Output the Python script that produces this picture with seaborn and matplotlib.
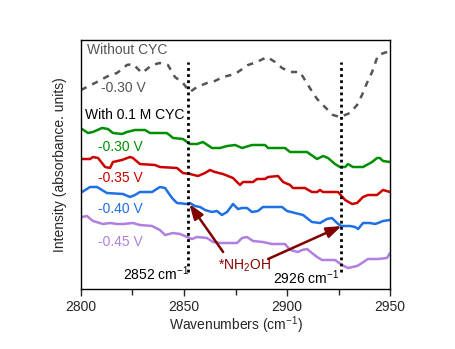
import numpy as np
import pandas as pd
import matplotlib
matplotlib.use("Agg")
import matplotlib.pyplot as plt
from matplotlib.ticker import MultipleLocator
import seaborn as sns

# ---- spectra (wavenumber in cm-1, intensity in offset absorbance units) ----
wn_no_cyc = [2800.0, 2802.9, 2806.8, 2814.1, 2817.5, 2822.3, 2825.2, 2829.6, 2834.5, 2838.3,
             2842.2, 2845.6, 2849.5, 2852.9, 2856.3, 2861.2, 2865.0, 2868.9, 2874.8, 2881.1,
             2885.4, 2890.3, 2894.2, 2897.6, 2901.5, 2906.3, 2908.7, 2911.7, 2914.6, 2918.4,
             2922.3, 2925.7, 2930.6, 2934.0, 2936.4, 2938.8, 2941.3, 2944.2, 2948.5, 2950.0]
int_no_cyc = [1.99, 2.02, 2.06, 2.14, 2.16, 2.24, 2.25, 2.16, 2.24, 2.26,
              2.24, 2.12, 2.06, 1.97, 2.02, 2.06, 2.08, 2.12, 2.15, 2.24,
              2.27, 2.32, 2.27, 2.21, 2.17, 2.17, 2.09, 1.99, 1.90, 1.82,
              1.74, 1.72, 1.76, 1.84, 1.94, 2.06, 2.17, 2.34, 2.37, 2.38]

wn_030 = [2800.5, 2803.4, 2805.8, 2810.2, 2813.1, 2815.5, 2819.9, 2822.3, 2826.2, 2831.1,
          2833.5, 2841.7, 2844.7, 2849.5, 2852.9, 2856.3, 2859.2, 2863.6, 2867.5, 2870.9,
          2874.8, 2878.2, 2883.0, 2889.3, 2890.8, 2899.0, 2901.5, 2909.7, 2914.6, 2917.5,
          2919.9, 2923.3, 2925.7, 2928.2, 2929.6, 2932.0, 2936.9, 2941.3, 2943.7, 2945.1,
          2946.6, 2950.0]
int_030 = [1.60, 1.56, 1.57, 1.61, 1.60, 1.56, 1.55, 1.57, 1.59, 1.59,
           1.56, 1.56, 1.51, 1.50, 1.45, 1.45, 1.47, 1.41, 1.41, 1.43,
           1.44, 1.41, 1.44, 1.44, 1.41, 1.41, 1.37, 1.37, 1.30, 1.33,
           1.31, 1.25, 1.22, 1.22, 1.25, 1.22, 1.22, 1.27, 1.31, 1.31,
           1.28, 1.27]

wn_035 = [2800.5, 2804.4, 2805.8, 2808.3, 2811.7, 2814.1, 2815.5, 2819.9, 2823.8, 2825.2,
          2828.6, 2835.9, 2838.3, 2846.6, 2849.5, 2852.9, 2856.8, 2860.2, 2862.6, 2865.0,
          2868.9, 2873.8, 2876.2, 2877.2, 2878.6, 2883.5, 2885.4, 2889.3, 2890.8, 2895.6,
          2898.1, 2901.5, 2902.9, 2908.7, 2912.1, 2914.6, 2916.0, 2917.5, 2924.8, 2928.2,
          2931.6, 2934.0, 2936.9, 2939.3, 2943.7, 2946.6, 2950.0]
int_035 = [1.30, 1.30, 1.32, 1.31, 1.22, 1.21, 1.27, 1.29, 1.32, 1.31,
           1.25, 1.24, 1.22, 1.21, 1.16, 1.15, 1.13, 1.16, 1.19, 1.17,
           1.15, 1.11, 1.06, 1.04, 1.07, 1.07, 1.10, 1.10, 1.12, 1.13,
           1.07, 1.04, 1.01, 1.01, 0.97, 0.97, 0.99, 0.97, 0.97, 0.89,
           0.85, 0.86, 0.92, 0.94, 0.94, 0.99, 0.97]

wn_040 = [2800.5, 2804.4, 2807.8, 2812.6, 2820.4, 2823.8, 2826.2, 2828.6, 2834.5, 2838.3,
          2840.8, 2844.2, 2846.6, 2851.5, 2852.9, 2855.3, 2857.8, 2860.2, 2863.6, 2866.0,
          2868.4, 2870.9, 2873.8, 2876.2, 2878.2, 2880.6, 2883.0, 2885.9, 2888.3, 2897.6,
          2900.0, 2903.9, 2907.8, 2912.1, 2916.0, 2919.4, 2921.8, 2924.3, 2926.2, 2930.6,
          2933.0, 2934.5, 2936.9, 2940.3, 2942.7, 2944.2, 2946.6, 2950.0]
int_040 = [0.97, 1.02, 1.02, 0.96, 0.95, 0.92, 0.94, 0.97, 0.97, 1.02,
           1.01, 0.91, 0.86, 0.85, 0.86, 0.83, 0.82, 0.79, 0.77, 0.78,
           0.74, 0.77, 0.85, 0.80, 0.81, 0.81, 0.77, 0.78, 0.82, 0.82,
           0.78, 0.76, 0.74, 0.67, 0.66, 0.70, 0.71, 0.66, 0.63, 0.63,
           0.62, 0.60, 0.66, 0.66, 0.65, 0.66, 0.68, 0.69]

wn_045 = [2800.5, 2802.9, 2805.8, 2810.7, 2814.1, 2817.5, 2820.4, 2825.2, 2828.6, 2834.5,
          2838.3, 2840.8, 2844.7, 2848.1, 2851.5, 2853.9, 2856.3, 2861.2, 2864.1, 2867.5,
          2875.7, 2878.2, 2880.6, 2883.5, 2888.3, 2892.7, 2899.0, 2901.5, 2905.3, 2907.3,
          2909.7, 2912.1, 2914.6, 2917.0, 2923.3, 2926.7, 2929.6, 2934.0, 2936.4, 2939.3,
          2944.2, 2948.5, 2950.0]
int_045 = [0.72, 0.73, 0.68, 0.65, 0.66, 0.65, 0.65, 0.66, 0.64, 0.63,
           0.59, 0.54, 0.56, 0.55, 0.52, 0.50, 0.52, 0.51, 0.47, 0.46,
           0.46, 0.51, 0.52, 0.48, 0.47, 0.45, 0.45, 0.39, 0.37, 0.39,
           0.40, 0.36, 0.32, 0.29, 0.29, 0.24, 0.21, 0.23, 0.26, 0.30,
           0.30, 0.31, 0.36]

peak_positions = [2852, 2926]
peak_labels = ["2852 cm$^{-1}$", "2926 cm$^{-1}$"]
potential_labels = ["-0.30 V", "-0.30 V", "-0.35 V", "-0.40 V", "-0.45 V"]

series = [
    ("no_cyc", wn_no_cyc, int_no_cyc, "#555555", (0, (2.5, 2.5))),
    ("cyc_030", wn_030, int_030, "#008f00", "-"),
    ("cyc_035", wn_035, int_035, "#cc0000", "-"),
    ("cyc_040", wn_040, int_040, "#1f6fe6", "-"),
    ("cyc_045", wn_045, int_045, "#b07fe0", "-"),
]

frames = [pd.DataFrame({"wavenumber": x, "intensity": y, "trace": name})
          for name, x, y, _, _ in series]
df = pd.concat(frames, ignore_index=True)

sns.set_style("ticks")
plt.rcParams["font.family"] = ["Liberation Sans", "DejaVu Sans"]
plt.rcParams["mathtext.fontset"] = "custom"
plt.rcParams["mathtext.rm"] = "Liberation Sans"

fig = plt.figure(figsize=(4.56, 3.49), dpi=100)
ax = fig.add_axes([0.1776, 0.1719, 0.6777, 0.7135])

for name, _, _, color, ls in series:
    sub = df[df["trace"] == name]
    sns.lineplot(data=sub, x="wavenumber", y="intensity", ax=ax, color=color,
                 linewidth=1.8, linestyle=ls, estimator=None, sort=False)

# dotted markers at the C-H stretching bands
for xp in peak_positions:
    ax.plot([xp, xp], [0.17, 2.27], color="black", linestyle=(0, (1, 1.2)), linewidth=2)

fs = 10
ax.text(2802.9, 2.39, "Without CYC", color="#555555", fontsize=fs, va="center")
ax.text(2809.7, 2.01, potential_labels[0], color="#555555", fontsize=fs, va="center")
ax.text(2801.9, 1.74, "With 0.1 M CYC", color="black", fontsize=fs, va="center")
ax.text(2808.3, 1.42, potential_labels[1], color="#008f00", fontsize=fs, va="center")
ax.text(2808.3, 1.11, potential_labels[2], color="#cc0000", fontsize=fs, va="center")
ax.text(2808.3, 0.80, potential_labels[3], color="#1f6fe6", fontsize=fs, va="center")
ax.text(2808.3, 0.47, potential_labels[4], color="#b07fe0", fontsize=fs, va="center")

ax.text(2820.4, 0.15, peak_labels[0], color="black", fontsize=fs, va="center")
ax.text(2893.2, 0.11, peak_labels[1], color="black", fontsize=fs, va="center")
ax.text(2866.3, 0.23, "*NH$_2$OH", color="#8b0000", fontsize=fs, va="center")

arrow_kw = dict(arrowstyle="-|>,head_length=0.9,head_width=0.32", color="#800000", lw=1.8,
                shrinkA=0, shrinkB=0)
ax.annotate("", xy=(2852.6, 0.85), xytext=(2869.0, 0.37), arrowprops=arrow_kw)
ax.annotate("", xy=(2926.5, 0.63), xytext=(2890.8, 0.30), arrowprops=arrow_kw)

ax.set_xlim(2800, 2950)
ax.set_ylim(0, 2.49)
ax.xaxis.set_major_locator(MultipleLocator(50))
ax.xaxis.set_minor_locator(MultipleLocator(25))
ax.set_yticks([])
ax.tick_params(axis="x", which="major", length=5, width=1, labelsize=fs, direction="out", pad=3)
ax.tick_params(axis="x", which="minor", length=4, width=1, direction="out")
for sp in ax.spines.values():
    sp.set_visible(True)
    sp.set_linewidth(1)
    sp.set_color("black")

ax.set_xlabel("Wavenumbers (cm$^{-1}$)", fontsize=fs, labelpad=0)
ax.set_ylabel("Intensity (absorbance. units)", fontsize=fs, labelpad=10)

fig.savefig("out.png", dpi=100)
